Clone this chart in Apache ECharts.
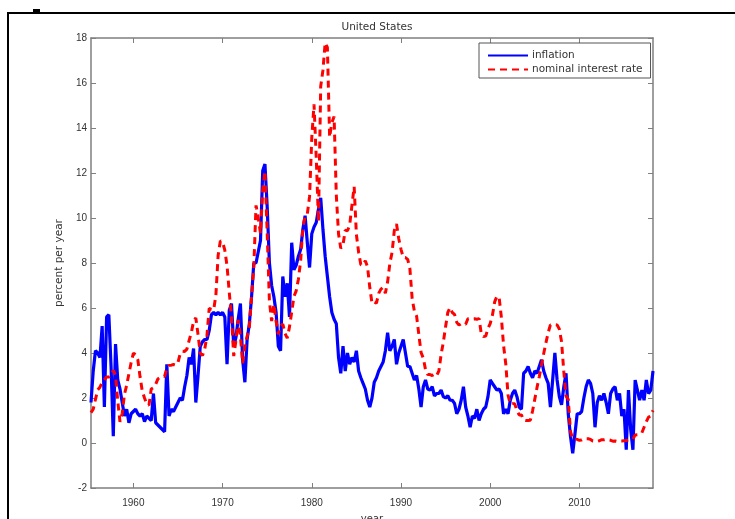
<!DOCTYPE html>
<html>
<head>
<meta charset="utf-8">
<title>United States</title>
<script src="https://cdn.jsdelivr.net/npm/echarts@6.0.0/dist/echarts.min.js"></script>
<style>
  html, body { margin: 0; padding: 0; background: #fff; }
  #chart { width: 735px; height: 519px; }
</style>
</head>
<body>
<div id="chart"></div>
<script>
// quarterly observations, first one at 1955.25, one every quarter
var startYear = 1955.25;
var step = 0.25;
var yearTicks = [1960, 1970, 1980, 1990, 2000, 2010];

// inflation, percent per year
var inflation = [
  1.8, 3.2, 4.1, 4.0,   3.8, 5.2, 1.6, 5.6,   5.7, 3.4, 0.3, 4.4,   2.8, 2.4, 1.8, 1.2,
  1.5, 0.9, 1.3, 1.4,   1.5, 1.3, 1.2, 1.3,   0.95, 1.2, 1.1, 1.0,  2.2, 0.9, 0.8, 0.7,
  0.6, 0.5, 3.5, 1.2,   1.5, 1.4, 1.6, 1.8,   2.0, 1.9, 2.5, 3.0,   3.8, 3.5, 4.2, 1.8,
  3.0, 4.3, 4.5, 4.6,   4.6, 5.0, 5.7, 5.8,   5.7, 5.8, 5.7, 5.8,   5.6, 3.5, 5.9, 6.2,
  4.3, 4.7, 5.5, 6.2,   3.7, 2.7, 4.6, 5.3,   6.5, 8.0, 8.0, 8.5,   9.0, 12.1, 12.4, 10.5,
  8.0, 7.0, 6.5, 5.8,   4.3, 4.1, 7.4, 6.5,   7.1, 5.6, 8.9, 7.7,   7.9, 8.3, 8.6, 9.5,
  10.1, 8.9, 7.8, 9.3,  9.6, 9.8, 10.4, 10.9, 9.5, 8.3, 7.4, 6.5,   5.8, 5.5, 5.3, 3.8,
  3.1, 4.3, 3.2, 4.0,   3.5, 3.8, 3.6, 4.1,   3.2, 2.9, 2.65, 2.4,  1.9, 1.6, 2.0, 2.7,
  2.9, 3.2, 3.4, 3.6,   4.1, 4.9, 4.1, 4.3,   4.6, 3.5, 4.0, 4.3,   4.6, 4.0, 3.4, 3.4,
  3.1, 2.8, 3.0, 2.4,   1.6, 2.5, 2.8, 2.4,   2.35, 2.5, 2.1, 2.2,  2.2, 2.35, 2.06, 2.0,
  2.1, 1.9, 1.9, 1.76,  1.3, 1.5, 1.9, 2.5,   1.6, 1.2, 0.7, 1.2,   1.1, 1.5, 1.0, 1.3,
  1.5, 1.6, 2.06, 2.8,  2.65, 2.5, 2.35, 2.4, 2.2, 1.3, 1.5, 1.3,   1.9, 2.2, 2.35, 2.06,
  1.6, 1.5, 3.1, 3.2,   3.4, 3.1, 2.9, 3.2,   3.1, 3.4, 3.7, 3.2,   2.9, 2.65, 1.6, 2.8,
  4.0, 2.8, 2.06, 1.7,  2.5, 3.1, 1.3, 0.3,   -0.46, 0.4, 1.3, 1.3, 1.4, 2.0, 2.5, 2.8,
  2.65, 2.2, 0.7, 1.8,  2.1, 1.9, 2.2, 1.8,   1.3, 2.2, 2.4, 2.5,   1.9, 2.2, 1.2, 1.5,
  -0.3, 2.35, 0.6, -0.3, 2.8, 2.35, 1.9, 2.35, 1.9, 2.8, 2.2, 2.35, 3.2
];

// nominal interest rate, percent per year
var interestRate = [
  1.35, 1.50, 1.94, 2.36,   2.48, 2.69, 2.81, 2.93,   2.93, 3.00, 3.23, 3.00,   1.86, 0.94, 1.32, 2.16,
  2.57, 3.08, 3.58, 3.99,   3.93, 3.70, 2.94, 2.30,   2.00, 1.73, 1.68, 2.40,   2.46, 2.61, 2.85, 2.92,
  2.97, 2.96, 3.33, 3.45,   3.46, 3.49, 3.46, 3.58,   3.97, 4.08, 4.07, 4.17,   4.56, 4.91, 5.41, 5.56,
  4.82, 3.99, 3.89, 4.17,   4.79, 5.98, 5.94, 5.92,   6.57, 8.33, 8.98, 8.94,   8.57, 7.88, 6.70, 5.57,
  3.86, 4.56, 5.47, 4.75,   3.54, 4.30, 4.74, 5.14,   6.54, 7.82, 10.56, 10.00, 9.32, 11.25, 12.09, 9.35,
  6.30, 5.42, 6.16, 5.41,   4.83, 5.20, 5.28, 4.87,   4.66, 5.16, 5.82, 6.51,   6.76, 7.28, 8.10, 9.58,
  10.07, 10.18, 10.95, 13.58, 15.05, 12.69, 9.84, 15.85, 16.57, 17.78, 17.58, 13.59, 14.23, 14.51, 11.01, 9.29,
  8.65, 8.80, 9.46, 9.43,   9.69, 10.56, 11.39, 9.27, 8.48, 7.92, 7.90, 8.10,   7.83, 6.92, 6.21, 6.27,
  6.22, 6.65, 6.84, 6.92,   6.66, 7.16, 7.98, 8.47,   9.44, 9.73, 9.08, 8.61,   8.25, 8.24, 8.16, 7.74,
  6.43, 5.86, 5.64, 4.82,   4.02, 3.77, 3.26, 3.04,   3.04, 3.00, 3.06, 2.99,   3.21, 3.94, 4.49, 5.17,
  5.81, 6.02, 5.80, 5.72,   5.36, 5.24, 5.31, 5.28,   5.28, 5.52, 5.53, 5.51,   5.52, 5.50, 5.53, 4.86,
  4.73, 4.75, 5.09, 5.31,   5.68, 6.27, 6.52, 6.47,   5.59, 4.33, 3.50, 2.13,   1.73, 1.75, 1.74, 1.44,
  1.25, 1.25, 1.02, 1.00,   1.00, 1.01, 1.43, 1.95,   2.47, 2.94, 3.46, 3.98,   4.46, 4.91, 5.25, 5.25,
  5.26, 5.25, 5.07, 4.50,   3.18, 2.09, 1.94, 0.51,   0.18, 0.18, 0.16, 0.12,   0.13, 0.19, 0.19, 0.19,
  0.16, 0.09, 0.08, 0.07,   0.10, 0.15, 0.14, 0.16,   0.14, 0.12, 0.08, 0.09,   0.07, 0.09, 0.09, 0.10,
  0.11, 0.13, 0.14, 0.16,   0.36, 0.37, 0.39, 0.45,   0.70, 0.95, 1.15, 1.20,   1.45
];

function withDates(vals) {
  return vals.map(function(v, i) {
    return [startYear + i * step, v];
  });
}

var axisGray = '#7f7f7f';
var textGray = '#333333';
var font = 'Liberation Sans';
var wideFont = 'DejaVu Sans';

var chart = echarts.init(document.getElementById('chart'), null, { renderer: 'canvas' });

var option = {
  backgroundColor: '#ffffff',
  animation: false,
  title: {
    text: 'United States',
    left: 372,
    textAlign: 'center',
    top: 17,
    textStyle: { fontFamily: wideFont, fontSize: 10.5, fontWeight: 'normal', color: textGray }
  },
  legend: {
    data: ['inflation', 'nominal interest rate'],
    orient: 'vertical',
    left: 479,
    top: 43,
    itemWidth: 40,
    itemHeight: 10,
    itemGap: 3,
    padding: [7, 8, 3, 8],
    backgroundColor: '#ffffff',
    borderColor: '#555555',
    borderWidth: 1,
    borderRadius: 0,
    selectedMode: false,
    itemStyle: { color: 'rgba(0,0,0,0)', borderWidth: 0, opacity: 0 },
    textStyle: { fontFamily: wideFont, fontSize: 10.5, color: textGray, padding: [0, 0, 0, -1] }
  },
  grid: { left: 91, top: 38, right: 82, bottom: 31, outerBoundsMode: 'none', containLabel: false },
  xAxis: [{
    type: 'value',
    position: 'bottom',
    min: 1955.25,
    max: 2018.25,
    name: 'year',
    nameLocation: 'middle',
    nameGap: 26,
    nameTextStyle: { fontFamily: wideFont, fontSize: 10, color: textGray },
    axisLine: { onZero: false, lineStyle: { color: axisGray, width: 1.5 } },
    axisTick: { inside: true, length: 5, lineStyle: { color: axisGray }, customValues: yearTicks },
    axisLabel: {
      fontFamily: font, fontSize: 10, color: textGray, margin: 10, customValues: yearTicks,
      formatter: function(v) { return String(v); }
    },
    splitLine: { show: false }
  }, {
    type: 'value',
    position: 'top',
    min: 1955.25,
    max: 2018.25,
    axisLine: { onZero: false, lineStyle: { color: axisGray, width: 1.5 } },
    axisTick: { inside: true, length: 5, lineStyle: { color: axisGray }, customValues: yearTicks },
    axisLabel: { show: false },
    splitLine: { show: false }
  }],
  yAxis: [{
    type: 'value',
    position: 'left',
    min: -2,
    max: 18,
    interval: 2,
    name: 'percent per year',
    nameLocation: 'middle',
    nameGap: 24,
    nameTextStyle: { fontFamily: wideFont, fontSize: 10.5, color: textGray },
    axisLine: { show: true, onZero: false, lineStyle: { color: axisGray, width: 1.5 } },
    axisTick: { show: true, inside: true, length: 5, lineStyle: { color: axisGray } },
    axisLabel: { fontFamily: font, fontSize: 10, color: textGray, margin: 4 },
    splitLine: { show: false }
  }, {
    type: 'value',
    position: 'right',
    min: -2,
    max: 18,
    interval: 2,
    axisLine: { show: true, onZero: false, lineStyle: { color: axisGray, width: 1.5 } },
    axisTick: { show: true, inside: true, length: 5, lineStyle: { color: axisGray } },
    axisLabel: { show: false },
    splitLine: { show: false }
  }],
  series: [{
    name: 'inflation',
    type: 'line',
    xAxisIndex: 0,
    yAxisIndex: 0,
    data: withDates(inflation),
    showSymbol: false,
    symbol: 'none',
    lineStyle: { color: '#0000ff', width: 3.2 },
    itemStyle: { color: '#0000ff' }
  }, {
    name: 'nominal interest rate',
    type: 'line',
    xAxisIndex: 0,
    yAxisIndex: 0,
    data: withDates(interestRate),
    showSymbol: false,
    symbol: 'none',
    lineStyle: { color: '#ff0000', width: 3, type: [7, 5] },
    itemStyle: { color: '#ff0000' }
  }],
  graphic: [{
    type: 'polyline',
    shape: { points: [[8, 519], [8, 13], [735, 13]] },
    style: { stroke: '#000000', lineWidth: 2, fill: null },
    silent: true
  }, {
    type: 'rect',
    shape: { x: 33, y: 9, width: 7, height: 4 },
    style: { fill: '#000000' },
    silent: true
  }]
};

chart.setOption(option);
</script>
</body>
</html>
